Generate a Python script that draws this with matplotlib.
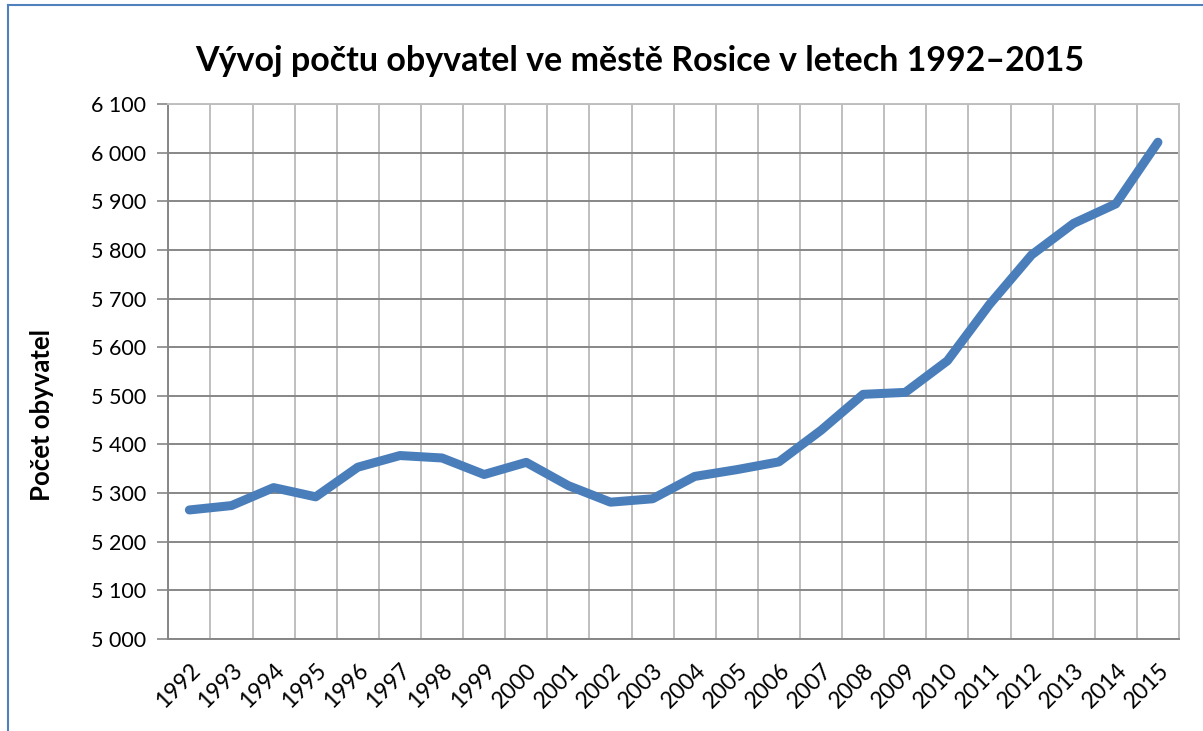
import matplotlib
matplotlib.use("Agg")
import matplotlib.pyplot as plt
import numpy as np
from matplotlib.ticker import FuncFormatter, MultipleLocator
from matplotlib.lines import Line2D

years = ["1992", "1993", "1994", "1995", "1996", "1997", "1998", "1999", "2000",
         "2001", "2002", "2003", "2004", "2005", "2006", "2007", "2008", "2009",
         "2010", "2011", "2012", "2013", "2014", "2015"]
population = [5265, 5274, 5311, 5292, 5353, 5377, 5372, 5338, 5363,
              5315, 5281, 5288, 5334, 5348, 5364, 5429, 5503, 5507,
              5572, 5688, 5790, 5855, 5895, 6022]

title = "Vývoj počtu obyvatel ve městě Rosice v letech 1992–2015"
ylabel = "Počet obyvatel"

plt.rcParams['font.family'] = ['Lato', 'DejaVu Sans']

fig = plt.figure(figsize=(12.03, 7.31), dpi=100)
ax = fig.add_axes([168.3 / 1203, 1 - 638.7 / 731, (1179 - 168.3) / 1203, (638.7 - 104.3) / 731])

x = np.arange(len(years))
ax.plot(x, population, color="#4A7EBB", linewidth=6.5, solid_capstyle="round",
        solid_joinstyle="round", zorder=3)

ax.set_xlim(-0.5, len(years) - 0.5)
ax.set_ylim(5000, 6100)
ax.yaxis.set_major_locator(MultipleLocator(100))
ax.yaxis.set_major_formatter(FuncFormatter(lambda v, p: f"{int(v):,}".replace(",", " ")))

ax.set_xticks(x)
ax.set_xticklabels(years, rotation=45, ha="right", rotation_mode="anchor")
ax.set_xticks(np.arange(-0.5, len(years), 1), minor=True)

ax.tick_params(axis="x", which="major", length=0, pad=15, labelsize=16.5, colors="black")
ax.tick_params(axis="x", which="minor", length=0)
ax.tick_params(axis="y", which="major", length=8, width=1.2, color="#868686", pad=8,
               labelsize=15.5)

ax.grid(axis="y", which="major", color="#878787", linewidth=1.4, zorder=1)
ax.grid(axis="x", which="minor", color="#BFBFBF", linewidth=1.4, zorder=1)
ax.set_axisbelow(True)

for side in ["left", "bottom"]:
    ax.spines[side].set_color("#868686")
    ax.spines[side].set_linewidth(1.4)
for side in ["right", "top"]:
    ax.spines[side].set_color("#BFBFBF")
    ax.spines[side].set_linewidth(1.4)

fig.text(640 / 1203, 1 - 61 / 731, title, ha="center", va="center",
         fontsize=24.5, fontweight="bold")
fig.text(42 / 1203, 1 - 415 / 731, ylabel, ha="center", va="center",
         rotation=90, fontsize=18.5, fontweight="bold")

# outer chart border (top and left visible)
fig.add_artist(Line2D([7.5 / 1203, 7.5 / 1203], [0, 1 - 5 / 731],
                      transform=fig.transFigure, color="#4F81BD", linewidth=1.5))
fig.add_artist(Line2D([7.5 / 1203, 1], [1 - 5 / 731, 1 - 5 / 731],
                      transform=fig.transFigure, color="#4F81BD", linewidth=1.5))

fig.savefig("out.png", dpi=100)
